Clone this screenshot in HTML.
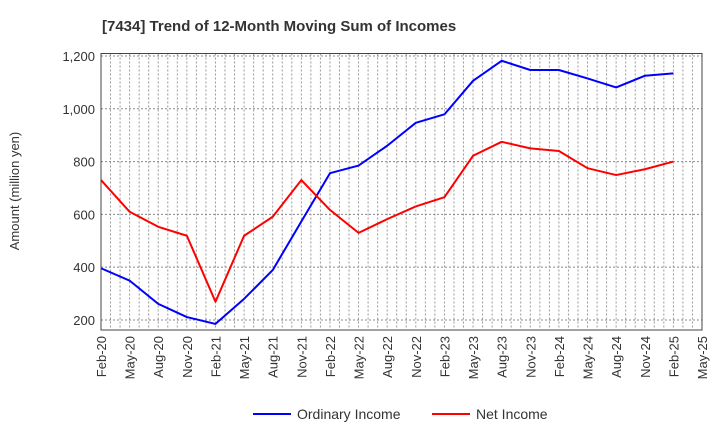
<!DOCTYPE html>
<html><head><meta charset="utf-8"><style>
body{margin:0;background:#fff;}
svg{display:block;font-family:"Liberation Sans",Arial,sans-serif;}
</style></head><body>
<svg id="chart" width="720" height="440" viewBox="0 0 720 440">
<text x="102" y="31" font-size="15" font-weight="bold" fill="#333">[7434]  Trend of 12-Month Moving Sum of Incomes</text>
<text transform="translate(19,191) rotate(-90)" text-anchor="middle" font-size="13" fill="#333">Amount (million yen)</text>
<g id="grid"></g>
<g id="series"></g>
<rect x="101" y="53.5" width="601" height="276.5" fill="none" stroke="#444" stroke-width="1"/>
<g id="ticks"></g>
<g>
<line x1="253" y1="414" x2="291" y2="414" stroke="#0000ff" stroke-width="2"/>
<text x="297" y="419" font-size="14" fill="#333">Ordinary Income</text>
<line x1="432" y1="414" x2="470" y2="414" stroke="#ff0000" stroke-width="2"/>
<text x="476" y="419" font-size="14" fill="#333">Net Income</text>
</g>
</svg>
<script>
const categories=["Feb-20","May-20","Aug-20","Nov-20","Feb-21","May-21","Aug-21","Nov-21","Feb-22","May-22","Aug-22","Nov-22","Feb-23","May-23","Aug-23","Nov-23","Feb-24","May-24","Aug-24","Nov-24","Feb-25","May-25"];
const ordinaryIncome=[396,349,261,211,185,280,389,573,756,785,860,947,979,1106,1182,1147,1147,1115,1081,1125,1134];
const netIncome=[730,610,553,519,269,519,591,730,617,530,582,630,665,822,875,850,840,775,749,771,800];
const yTicks=[200,400,600,800,1000,1200];
const yTickLabels=["200","400","600","800","1,000","1,200"];
const NS="http://www.w3.org/2000/svg";
const X0=101,X1=702,Y0=330,Y1=53.5,YMIN=162,YMAX=1209.5;
const months=(categories.length-1)*3;
function xm(m){return X0+(X1-X0)*m/months;}
function xq(i){return xm(i*3);}
function y(v){return Y0-(v-YMIN)/(YMAX-YMIN)*(Y0-Y1);}
function mk(tag,attrs,parent){const e=document.createElementNS(NS,tag);for(const k in attrs)e.setAttribute(k,attrs[k]);parent.appendChild(e);return e;}
const grid=document.getElementById('grid'),ticks=document.getElementById('ticks'),series=document.getElementById('series');
for(let m=1;m<months;m++){
  const l=mk('line',{x1:xm(m),x2:xm(m),y1:Y1,y2:Y0,stroke:'#999','stroke-dasharray':'2,2','stroke-width':1},grid);
  
  
}
yTicks.forEach((v,i)=>{
  const l=mk('line',{x1:X0,x2:X1,y1:y(v),y2:y(v),stroke:'#888','stroke-dasharray':'2,2','stroke-width':1},grid);
  
  
  const t=mk('text',{x:X0-6,y:y(v)+5,'text-anchor':'end','font-size':13,fill:'#333'},ticks);
  t.textContent=yTickLabels[i];
  
  
});
categories.forEach((c,i)=>{
  const t=mk('text',{transform:`translate(${xq(i)+5},336) rotate(-90)`,'text-anchor':'end','font-size':13,fill:'#333'},ticks);
  t.textContent=c;
  
  
});
function line(data,color,name){
  const p=mk('polyline',{points:data.map((v,i)=>xq(i)+','+y(v)).join(' '),fill:'none',stroke:color,'stroke-width':2,'stroke-linejoin':'round'},series);
  
  
}
line(ordinaryIncome,'#0000ff','ordinary-income-line');
line(netIncome,'#ff0000','net-income-line');
</script>
</body></html>
